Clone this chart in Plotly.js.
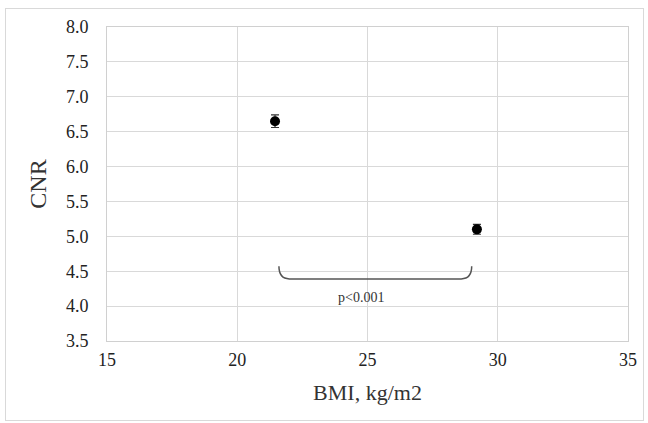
<!DOCTYPE html>
<html><head><meta charset="utf-8">
<script src="https://cdn.plot.ly/plotly-3.0.1.min.js"></script>
<style>html,body{margin:0;padding:0;background:#fff}#chart{width:648px;height:423px}
#frame{position:absolute;left:5px;top:8px;width:637px;height:411px;border:1px solid #d9d9d9;pointer-events:none}</style>
</head><body>
<div id="chart"></div><div id="frame"></div>
<script>
const bmi = [21.45, 29.2];
const cnr = [6.65, 5.1];
const cnrErr = [0.09, 0.07];
const xRange = [15, 35];
const xStep = 5;
const yRange = [3.5, 8.0];
const yStep = 0.5;
const pLabel = 'p<0.001';

const FAM = 'Liberation Serif';
const esc = s => s.replace(/&/g, '&amp;').replace(/</g, '&lt;').replace(/>/g, '&gt;');
const trace = {
  x: bmi, y: cnr, type: 'scatter', mode: 'markers',
  marker: {color: '#000', size: 10},
  error_y: {type: 'data', array: cnrErr, visible: true, color: '#333', thickness: 1.2, width: 4},
  hoverinfo: 'none'
};
const layout = {
  width: 648, height: 423,
  margin: {l: 107, r: 20, t: 27, b: 82},
  paper_bgcolor: '#fff', plot_bgcolor: '#fff',
  showlegend: false,
  font: {family: FAM, color: '#222', size: 18},
  xaxis: {
    range: xRange, tick0: xRange[0], dtick: xStep,
    showgrid: true, gridcolor: '#d9d9d9', gridwidth: 1,
    showline: true, linecolor: '#d0d0d0', linewidth: 1, mirror: true,
    zeroline: false, ticks: 'outside', ticklen: 2, tickcolor: 'rgba(0,0,0,0)',
    tickfont: {family: FAM, size: 18, color: '#222'},
    title: {text: 'BMI, kg/m2', font: {size: 22, family: FAM, color: '#333'}, standoff: 16}
  },
  yaxis: {
    range: yRange, tick0: yRange[0], dtick: yStep, tickformat: '.1f',
    showgrid: true, gridcolor: '#d9d9d9', gridwidth: 1,
    showline: true, linecolor: '#d0d0d0', linewidth: 1, mirror: true,
    zeroline: false, ticks: 'outside', ticklen: 14, tickcolor: 'rgba(0,0,0,0)',
    tickfont: {family: FAM, size: 18, color: '#222'},
    title: {text: 'CNR', font: {size: 24, family: FAM, color: '#333'}, standoff: 12}
  },
  shapes: [{
    type: 'path', xref: 'x', yref: 'y',
    path: 'M 21.6,4.57 Q 21.6,4.39 22.0,4.39 L 28.6,4.39 Q 29.0,4.39 29.0,4.57',
    line: {color: '#555', width: 1.5}
  }],
  annotations: [{
    x: 24.75, y: 4.13, xref: 'x', yref: 'y', text: esc(pLabel), showarrow: false,
    font: {size: 14, family: FAM, color: '#333'}
  }]
};
Plotly.newPlot('chart', [trace], layout, {staticPlot: true, displayModeBar: false});
</script>
</body></html>
